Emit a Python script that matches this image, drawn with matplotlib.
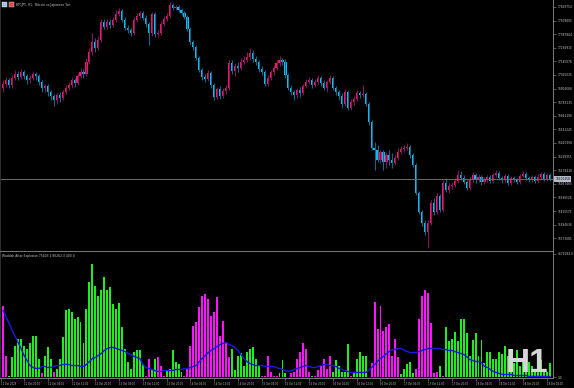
import numpy as np
import matplotlib.pyplot as plt
from matplotlib.patches import Rectangle
from matplotlib.transforms import blended_transform_factory

# BTCJPY H1 candles, prices in thousands of yen
first_open = 16909
closes = [16945, 16981, 16936, 16998, 17034, 17007, 17052, 17016, 16981, 16998,
          17034, 17016, 16963, 16909, 16927, 16874, 16838, 16803, 16847, 16820,
          16874, 16909, 16936, 16981, 16954, 17016, 17052, 17034, 17141, 17230,
          17318, 17265, 17336, 17496, 17452, 17496, 17470, 17514, 17568, 17594,
          17514, 17443, 17425, 17399, 17514, 17550, 17576, 17532, 17479, 17399,
          17568, 17390, 17399, 17479, 17523, 17550, 17648, 17621, 17630, 17603,
          17576, 17541, 17434, 17318, 17274, 17176, 17070, 17007, 16989, 17043,
          16936, 16829, 16901, 16838, 16883, 16909, 17132, 17061, 17105, 17087,
          17141, 17158, 17185, 17221, 17167, 17141, 17078, 17052, 16945, 16998,
          17052, 17087, 17132, 17158, 17141, 17025, 16909, 16874, 16847, 16892,
          16865, 16927, 16963, 16981, 16936, 16963, 16998, 16954, 16909, 16963,
          16998, 16909, 16874, 16838, 16767, 16874, 16732, 16785, 16812, 16865,
          16847, 16856, 16767, 16607, 16376, 16358, 16269, 16340, 16251, 16314,
          16269, 16242, 16287, 16340, 16367, 16376, 16385, 16314, 16225, 15976,
          15807, 15709, 15629, 15709, 15887, 15807, 15949, 15825, 16064, 16002,
          16038, 16047, 16082, 16136, 16109, 16073, 16020, 16091, 16136, 16091,
          16118, 16073, 16091, 16118, 16082, 16136, 16153, 16109, 16091, 16127,
          16064, 16109, 16091, 16073, 16127, 16145, 16109, 16091, 16118, 16082,
          16118, 16145, 16100, 16136, 16100]
highs = [16981, 17007, 16998, 17025, 17070, 17061, 17078, 17070, 17034, 17025,
         17061, 17052, 17034, 16981, 16945, 16945, 16892, 16856, 16865, 16874,
         16892, 16936, 16963, 17007, 16998, 17043, 17087, 17078, 17176, 17265,
         17399, 17354, 17372, 17523, 17523, 17523, 17523, 17541, 17603, 17621,
         17612, 17541, 17470, 17443, 17541, 17576, 17594, 17594, 17559, 17496,
         17585, 17585, 17425, 17505, 17550, 17576, 17674, 17665, 17648, 17648,
         17621, 17594, 17559, 17452, 17336, 17292, 17194, 17087, 17034, 17070,
         17061, 16954, 16918, 16927, 16909, 16936, 17158, 17158, 17132, 17141,
         17176, 17194, 17230, 17265, 17247, 17194, 17158, 17105, 17070, 17025,
         17070, 17114, 17158, 17194, 17176, 17167, 17043, 16936, 16892, 16909,
         16918, 16945, 16989, 17007, 16998, 16989, 17025, 17016, 16981, 16981,
         17025, 17016, 16927, 16892, 16865, 16901, 16892, 16812, 16838, 16892,
         16883, 16936, 16874, 16785, 16625, 16429, 16403, 16358, 16358, 16340,
         16358, 16331, 16314, 16376, 16394, 16403, 16420, 16403, 16331, 16242,
         15993, 15825, 15736, 15736, 15913, 15931, 15976, 15967, 16091, 16109,
         16064, 16073, 16109, 16180, 16171, 16136, 16091, 16118, 16162, 16153,
         16145, 16136, 16118, 16136, 16136, 16153, 16180, 16171, 16127, 16145,
         16145, 16127, 16127, 16109, 16145, 16171, 16162, 16127, 16136, 16136,
         16145, 16162, 16162, 16153, 16153]
lows = [16874, 16918, 16909, 16909, 16981, 16981, 16989, 16989, 16945, 16954,
        16981, 16981, 16936, 16874, 16874, 16838, 16803, 16750, 16767, 16785,
        16803, 16856, 16892, 16909, 16918, 16936, 16998, 16998, 17016, 17123,
        17203, 17230, 17247, 17318, 17434, 17434, 17443, 17452, 17496, 17550,
        17496, 17425, 17399, 17372, 17381, 17496, 17532, 17514, 17452, 17292,
        17372, 17363, 17363, 17381, 17461, 17505, 17532, 17603, 17603, 17585,
        17559, 17523, 17416, 17301, 17247, 17158, 17052, 16981, 16963, 16972,
        16909, 16803, 16812, 16812, 16820, 16856, 16892, 17034, 17016, 17052,
        17070, 17123, 17141, 17167, 17141, 17114, 17052, 17025, 16927, 16927,
        16981, 17025, 17070, 17105, 17114, 16998, 16892, 16847, 16803, 16820,
        16829, 16847, 16909, 16945, 16909, 16918, 16945, 16927, 16892, 16874,
        16945, 16892, 16847, 16803, 16732, 16750, 16714, 16714, 16758, 16794,
        16820, 16829, 16750, 16580, 16358, 16180, 16251, 16242, 16180, 16198,
        16225, 16198, 16225, 16269, 16322, 16340, 16358, 16287, 16207, 15958,
        15789, 15682, 15602, 15487, 15691, 15780, 15789, 15807, 15807, 15985,
        15976, 16011, 16029, 16064, 16091, 16056, 16002, 16002, 16073, 16064,
        16073, 16047, 16056, 16073, 16064, 16064, 16118, 16091, 16064, 16073,
        16047, 16047, 16073, 16056, 16056, 16118, 16091, 16073, 16073, 16064,
        16064, 16100, 16082, 16082, 16082]

# Waddah Attar Explosion (thousands): histogram, bar colour (G up / M down), explosion line
wae_hist = [2714, 792, 75, 754, 1169, 1433, 1433, 1169, 1056, 1282,
            1546, 1546, 679, 151, 792, 1131, 716, 189, 339, 679,
            1508, 2526, 2601, 2451, 2187, 2262, 2074, 1282, 2601, 3582,
            4260, 3431, 3091, 3280, 3770, 3280, 3393, 2752, 2564, 2790,
            1885, 1093, 603, 339, 980, 1018, 1018, 490, 60, 716,
            339, 679, 754, 452, 60, 264, 339, 1018, 566, 490,
            189, 75, 339, 1206, 1960, 2074, 2639, 3091, 3129, 2941,
            2300, 2451, 3016, 1546, 2111, 1320, 754, 1056, 264, 829,
            905, 415, 980, 1056, 1131, 716, 415, 60, 75, 829,
            189, 40, 75, 151, 641, 151, 0, 151, 189, 716,
            943, 1282, 1093, 226, 60, 40, 264, 452, 679, 302,
            792, 189, 641, 452, 189, 226, 1244, 40, 189, 679,
            943, 829, 792, 0, 528, 2828, 1810, 2714, 1734, 1885,
            1998, 792, 1470, 754, 113, 339, 490, 603, 151, 302,
            2187, 3054, 3280, 3167, 2036, 151, 189, 452, 60, 1885,
            1357, 1470, 1697, 1357, 2224, 2224, 1659, 829, 1395, 1659,
            829, 1395, 528, 980, 943, 716, 679, 943, 867, 1169,
            792, 528, 528, 1018, 415, 641, 566, 566, 452, 339,
            1018, 641, 264, 189, 528]
wae_dir = ("MMGGGGGGGG" "GGGMGGGMGG" "GGGGGGGGGG" "GGGGGGGGGG" "GGGGGGGGMM"
           "GGMMMGGGGG" "GMMMMMMMMM" "MMMMMMMGGG" "GGGGGGGMMM" "MMMGGGGMMM"
           "MMMMGMMMMM" "MGGGGGGMGG" "GGGGMMMMMM" "MMMMGGGGGM" "MMMMMMMGMG"
           "GGGGGGGGGG" "GGGGGGGGGG" "GGGGGGGGGG" "GGGGG")
wae_line = [2526, 2262, 2036, 1772, 1546, 1320, 1093, 829, 641, 452,
            377, 339, 339, 415, 415, 377, 377, 415, 452, 452,
            490, 490, 490, 452, 452, 452, 415, 415, 490, 603,
            716, 754, 829, 905, 1018, 1093, 1131, 1131, 1093, 1056,
            1018, 980, 905, 867, 792, 754, 716, 490, 377, 339,
            302, 264, 226, 226, 264, 264, 264, 264, 302, 302,
            302, 339, 339, 377, 415, 452, 603, 716, 829, 943,
            1018, 1093, 1169, 1244, 1282, 1320, 1244, 1206, 1131, 1018,
            867, 716, 603, 528, 490, 452, 452, 452, 415, 415,
            415, 415, 377, 339, 302, 264, 226, 264, 302, 339,
            377, 415, 452, 415, 377, 377, 415, 452, 490, 490,
            452, 452, 415, 339, 302, 264, 226, 189, 189, 189,
            189, 189, 189, 264, 377, 490, 603, 716, 792, 905,
            980, 1056, 1056, 1093, 1093, 1018, 980, 943, 943, 943,
            980, 1018, 1056, 1093, 1093, 1093, 1093, 1093, 1056, 1056,
            1018, 1018, 980, 943, 905, 867, 792, 679, 641, 603,
            603, 566, 415, 377, 302, 226, 189, 151, 113, 113,
            113, 113, 75, 75, 75, 75, 75, 38, 38, 38,
            38, 38, 38, 38, 30]

price_ticks = [17629754, 17508805, 17387864, 17266915, 17145976, 17025025,
               16904086, 16783135, 16662196, 16541245, 16420306, 16299355,
               16178416, 16057465, 15936526, 15815575, 15694636, 15573685]
last_price = 16100158
wae_ticks = [4672084.0, 0.0]
date_pos = [-0.7, 7, 15, 23, 31, 39, 47, 55, 63, 71, 79, 87, 95, 103, 111, 119,
            127, 135, 143, 151, 159, 167, 175, 183]
date_labels = ['11 Oct 2025', '11 Oct 20:00', '12 Oct 04:00', '12 Oct 12:00',
               '12 Oct 20:00', '13 Oct 04:00', '13 Oct 12:00', '13 Oct 20:00',
               '14 Oct 04:00', '14 Oct 12:00', '14 Oct 20:00', '15 Oct 04:00',
               '15 Oct 12:00', '15 Oct 20:00', '16 Oct 04:00', '16 Oct 12:00',
               '16 Oct 20:00', '17 Oct 04:00', '17 Oct 12:00', '17 Oct 20:00',
               '18 Oct 04:00', '18 Oct 12:00', '18 Oct 20:00', '19 Oct 04:00']

W, H = 574, 388
fig = plt.figure(figsize=(W / 100, H / 100), dpi=100, facecolor='black')


def px_axes(x0, y0, x1, y1):
    return fig.add_axes([x0 / W, 1 - y1 / H, (x1 - x0) / W, (y1 - y0) / H])


grey = '#7a7a7a'
txt = '#c8c8c8'
ax = px_axes(0, 0, 553, 251)
ax2 = px_axes(0, 252, 553, 378)
for a in (ax, ax2):
    a.set_facecolor('black')
    for s in a.spines.values():
        s.set_color(grey)
        s.set_linewidth(0.7)
    a.spines['top'].set_visible(False)
    a.set_xlim(-1.11, 185.08)
    a.yaxis.tick_right()
    a.tick_params(axis='y', colors=grey, labelcolor=txt, labelsize=2.1,
                  length=2.2, width=0.5, pad=1.2)
ax.spines['left'].set_color('#303030')
ax2.spines['left'].set_color('#303030')

# candles
c = np.array(closes) * 1000.0
o = np.array([first_open] + closes[:-1]) * 1000.0
h = np.array(highs) * 1000.0
l = np.array(lows) * 1000.0
x = np.arange(len(c))
bull = c >= o
body_col = np.where(bull, '#ff1468', '#10bff5')
wick_col = np.where(bull, '#80195c', '#13678a')
ax.vlines(x, l, h, colors=wick_col, linewidth=0.8)
bottom = np.minimum(o, c)
height = np.maximum(np.abs(c - o), 9000)
ax.bar(x, height, bottom=bottom, width=0.72, color=body_col, linewidth=0)
ax.axhline(last_price, color='#6a6a6a', linewidth=0.7)
ax.set_ylim(17692000 - 8893 * 251, 17692000)
ax.set_yticks(price_ticks)
ax.set_yticklabels([str(v) for v in price_ticks])
ax.set_xticks([])

tr = blended_transform_factory(ax.transAxes, ax.transData)
ax.text(1.004, last_price, str(last_price), transform=tr, fontsize=2.1,
        color='black', va='center', ha='left',
        bbox=dict(boxstyle='square,pad=0.25', fc='#b4bccb', ec='none'))

# Waddah Attar Explosion panel
hv = np.array(wae_hist) * 1000.0
hc = ['#1cf01c' if d == 'G' else '#ff14ff' for d in wae_dir]
ax2.bar(x, hv, width=0.66, color=hc, linewidth=0)
ax2.plot(x, np.array(wae_line) * 1000.0, color='#1a1ae6', linewidth=1.0)
ax2.set_ylim(-19000, 4731000)
ax2.set_yticks(wae_ticks)
ax2.set_yticklabels(['%.1f' % v for v in wae_ticks])
ax2.set_xticks(date_pos)
ax2.set_xticklabels(date_labels)
ax2.tick_params(axis='x', colors=grey, labelcolor=txt, labelsize=1.8,
                length=2, width=0.5, pad=0.6)
for t in ax2.get_xticklabels():
    t.set_horizontalalignment('left')

# header texts and icons
fig.patches.append(Rectangle((2 / W, 1 - 7 / H), 5 / W, 5 / H, transform=fig.transFigure,
                             fc='#9fc7ee', ec='#dddddd', lw=0.3))
fig.patches.append(Rectangle((9 / W, 1 - 7 / H), 5 / W, 5 / H, transform=fig.transFigure,
                             fc='#e04848', ec='#dddddd', lw=0.3))
fig.text(16 / W, 1 - 5 / H, 'BTCJPY, H1:  Bitcoin vs Japanese Yen', fontsize=2.2,
         color=txt, va='center', ha='left')
fig.text(2 / W, 1 - 256 / H, 'Waddah Attar Explosion 75403.2 80262.3 400.0',
         fontsize=2.2, color=txt, va='center', ha='left')
fig.text(506 / W, 1 - 372 / H, 'H1', fontsize=24, fontweight='bold',
         family='Liberation Sans', color='#d6d6d6', va='baseline', ha='left')

fig.savefig('out.png', dpi=100, facecolor='black')
